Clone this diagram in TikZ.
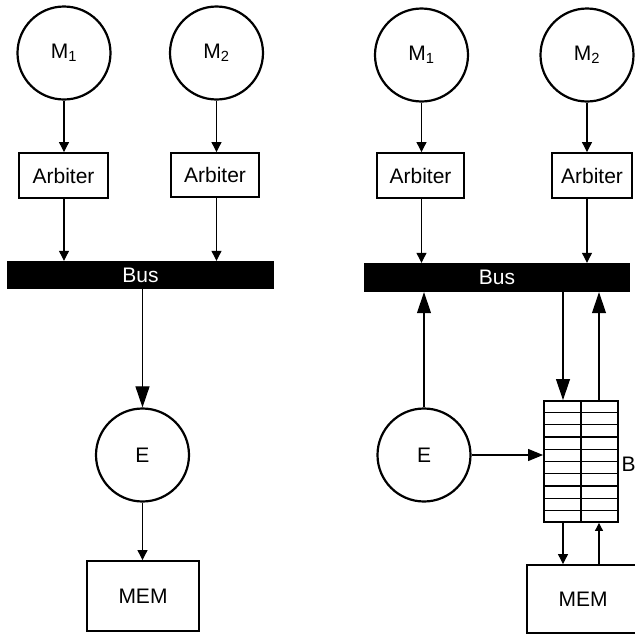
\documentclass[tikz,border=0pt]{standalone}
\usepackage{fontspec}
\setmainfont{Liberation Sans}
\usetikzlibrary{arrows.meta,calc}
\begin{document}
\begin{tikzpicture}[x=1pt,y=-1pt,
  every node/.style={font=\fontsize{21}{25}\selectfont},
  proc/.style={draw,circle,line width=2.2pt,minimum size=93pt,inner sep=0pt},
  box/.style={draw,rectangle,line width=1.9pt,inner sep=0pt},
  busbar/.style={fill=black,draw=none,inner sep=0pt,text=white,minimum height=28pt},
  link/.style={line width=1.1pt},
  tipS/.style={link,-{Triangle[length=10pt,width=10pt]}},
  tipL/.style={link,-{Triangle[length=21pt,width=14pt]}},
  tipM/.style={link,-{Triangle[length=15pt,width=12pt]}},
  tipT/.style={link,-{Triangle[length=8pt,width=8pt]}}]
\clip (0,0) rectangle (635,635);
\fill[white] (0,0) rectangle (635,635);

% ---- left configuration ----
\node[proc] (M1a) at (64,53) {M\textsubscript{1}};
\node[proc] (M2a) at (216.5,53) {M\textsubscript{2}};
\node[box,minimum width=89pt,minimum height=45pt] (A1a) at (63.5,175.5) {Arbiter};
\node[box,minimum width=88pt,minimum height=44pt] (A2a) at (215,175) {Arbiter};
\node[busbar,minimum width=267pt] (busA) at (140.5,275) {Bus};
\node[proc] (Ea) at (142.5,455) {E};
\node[box,minimum width=112pt,minimum height=70pt] (MEMa) at (143,596) {MEM};

\draw[tipS] (M1a.south) -- (M1a.south |- A1a.north);
\draw[tipS] (M2a.south) -- (M2a.south |- A2a.north);
\draw[tipS] (A1a.south -| M1a.south) -- (M1a.south |- busA.north);
\draw[tipS] (A2a.south -| M2a.south) -- (M2a.south |- busA.north);
\draw[tipL] (busA.south -| Ea.north) -- (Ea.north);
\draw[tipS] (Ea.south) -- (Ea.south |- MEMa.north);

% ---- right configuration ----
\node[proc] (M1b) at (421.5,55) {M\textsubscript{1}};
\node[proc] (M2b) at (587,55) {M\textsubscript{2}};
\node[box,minimum width=87pt,minimum height=45pt] (A1b) at (420.5,175.5) {Arbiter};
\node[box,minimum width=80pt,minimum height=45pt] (A2b) at (592,175.5) {Arbiter};
\node[busbar,minimum width=266pt,minimum height=29pt] (busB) at (497,277.5) {Bus};
\node[proc] (Eb) at (424,455) {E};
\node[box,minimum width=74pt,minimum height=121pt] (buf) at (581,461.5) {};
\node[box,minimum width=112pt,minimum height=68pt] (MEMb) at (583,599) {MEM};
\node[anchor=west,inner sep=0pt] (Blab) at ($(buf.east)+(2.5,2.5)$) {B};

% buffer slots
\draw[line width=1.2pt] (buf.north) -- (buf.south);
\foreach \k in {1,...,9}
  \draw[line width=1.3pt] ($(buf.north west)!\k/10!(buf.south west)$) -- ($(buf.north east)!\k/10!(buf.south east)$);

\coordinate (bl) at ($(buf.north)+(-18,0)$);
\coordinate (br) at ($(buf.north)+(18,0)$);

\draw[tipS] (M1b.south) -- (M1b.south |- A1b.north);
\draw[tipS] (M2b.south) -- (M2b.south |- A2b.north);
\draw[tipS] (A1b.south -| M1b.south) -- (M1b.south |- busB.north);
\draw[tipS] (A2b.south -| M2b.south) -- (M2b.south |- busB.north);
\draw[tipL] (Eb.north) -- (Eb.north |- busB.south);
\draw[tipL] (bl |- busB.south) -- (bl);
\draw[tipL] (br) -- (br |- busB.south);
\draw[tipM] (Eb.east) -- (Eb.east -| buf.west);
\draw[tipS] (bl |- buf.south) -- (bl |- MEMb.north);
\draw[tipT] (br |- MEMb.north) -- (br |- buf.south);
\end{tikzpicture}
\end{document}
